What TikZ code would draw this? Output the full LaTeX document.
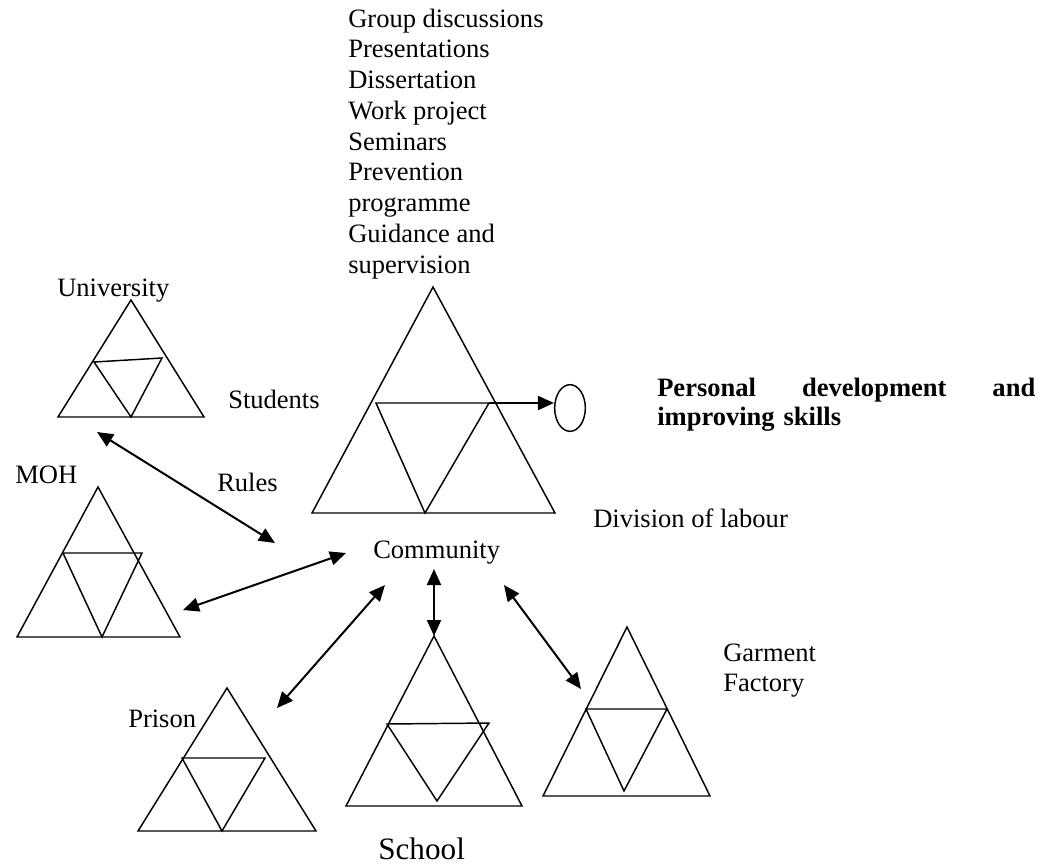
\documentclass[tikz,border=0pt]{standalone}
\usepackage{fontspec}
\setmainfont{Liberation Serif}
\usetikzlibrary{arrows.meta,shapes.geometric}
\begin{document}
\begin{tikzpicture}[x=0.75pt,y=-0.75pt,
  lbl/.style={inner sep=0pt, anchor=base west, font=\fontsize{19.9}{23}\selectfont},
  tri/.style={line width=1.1pt, line join=miter},
  link/.style={line width=1.5pt, {Triangle[length=12pt,width=10.5pt]}-{Triangle[length=12pt,width=10.5pt]}},
  oneway/.style={line width=1.5pt, -{Triangle[length=12pt,width=10.5pt]}},
]
\path[use as bounding box] (0,0) rectangle (1053,865);

% ---------- activity list ----------
\foreach \t [count=\i] in {Group discussions,Presentations,Dissertation,Work project,Seminars,Prevention,programme,Guidance and,supervision}
  \node[lbl] (act\i) at (348,{27+30.75*(\i-1)}) {\t};

% ---------- University ----------
\coordinate (uA) at (131,300); \coordinate (uL) at (58,417); \coordinate (uR) at (204,417);
\coordinate (uI1) at (94,362); \coordinate (uI2) at (162,358); \coordinate (uI3) at (131,417);
\draw[tri] (uA)--(uL)--(uR)--cycle;
\draw[tri] (uI1)--(uI2)--(uI3)--cycle;

% ---------- MOH ----------
\coordinate (mA) at (98,487); \coordinate (mL) at (17,637); \coordinate (mR) at (180,637);
\coordinate (mI1) at (63,553); \coordinate (mI2) at (142,553); \coordinate (mI3) at (102,637);
\draw[tri] (mA)--(mL)--(mR)--cycle;
\draw[tri] (mI1)--(mI2)--(mI3)--cycle;

% ---------- main triangle ----------
\coordinate (bA) at (433,287); \coordinate (bL) at (312,513); \coordinate (bR) at (555,513);
\coordinate (bI1) at (376,403); \coordinate (bI2) at (489,403); \coordinate (bI3) at (425,513);
\draw[tri] (bA)--(bL)--(bR)--cycle;
\draw[tri] (bI1)--(bI2)--(bI3)--cycle;

\node[draw, ellipse, line width=1.1pt, minimum width=23pt, minimum height=35pt, inner sep=0pt] (goal) at (570,408) {};
\draw[oneway] (bI2) -- (bI2 -| goal.west);

% ---------- School ----------
\coordinate (sA) at (434,636); \coordinate (sL) at (346,806); \coordinate (sR) at (522,806);
\coordinate (sI1) at (387,724); \coordinate (sI2) at (489,723); \coordinate (sI3) at (437,801);
\draw[tri] (sA)--(sL)--(sR)--cycle;
\draw[tri] (sI1)--(sI2)--(sI3)--cycle;

% ---------- Prison ----------
\coordinate (pA) at (227,688); \coordinate (pL) at (138,831); \coordinate (pR) at (316,831);
\coordinate (pI1) at (182,758); \coordinate (pI2) at (265,758); \coordinate (pI3) at (222,831);
\draw[tri] (pA)--(pL)--(pR)--cycle;
\draw[tri] (pI1)--(pI2)--(pI3)--cycle;

% ---------- Garment factory ----------
\coordinate (gA) at (627,627); \coordinate (gL) at (543,796); \coordinate (gR) at (710,796);
\coordinate (gI1) at (586,709); \coordinate (gI2) at (667,709); \coordinate (gI3) at (624,791);
\draw[tri] (gA)--(gL)--(gR)--cycle;
\draw[tri] (gI1)--(gI2)--(gI3)--cycle;

% ---------- labels ----------
\node[lbl] (univ) at (57,296) {University};
\node[lbl] (stud) at (228,408) {Students};
\node[lbl] (moh) at (15,483) {MOH};
\node[lbl] (rules) at (217,491) {Rules};
\node[lbl] (comm) at (373,558) {Community};
\node[lbl] (div) at (593,527) {Division of labour};
\node[lbl] (prison) at (128,727) {Prison};
\node[lbl, font=\fontsize{23.4}{27}\selectfont] (school) at (378,859) {School};
\node[lbl] (garm) at (723,661) {Garment};
\node[lbl] (fact) at (723,691) {Factory};
\node[lbl, text width=283.5pt, align=left, font=\bfseries\fontsize{19.9}{21.75}\selectfont] (pers) at (657,396)
  {Personal\hfill development\hfill and\\improving skills};

% ---------- connectors ----------
\coordinate (u1) at (97,432);  \coordinate (c1) at (275,543);
\coordinate (m1) at (183,610); \coordinate (c2) at (346,553);
\coordinate (c3) at (434,569);
\coordinate (c4) at (385,585); \coordinate (p1) at (277,708);
\coordinate (c5) at (504,585); \coordinate (g1) at (581,689);
\draw[link] (u1) -- (c1);
\draw[link] (m1) -- (c2);
\draw[link] (c3) -- (sA);
\draw[link] (c4) -- (p1);
\draw[link] (c5) -- (g1);
\end{tikzpicture}
\end{document}
